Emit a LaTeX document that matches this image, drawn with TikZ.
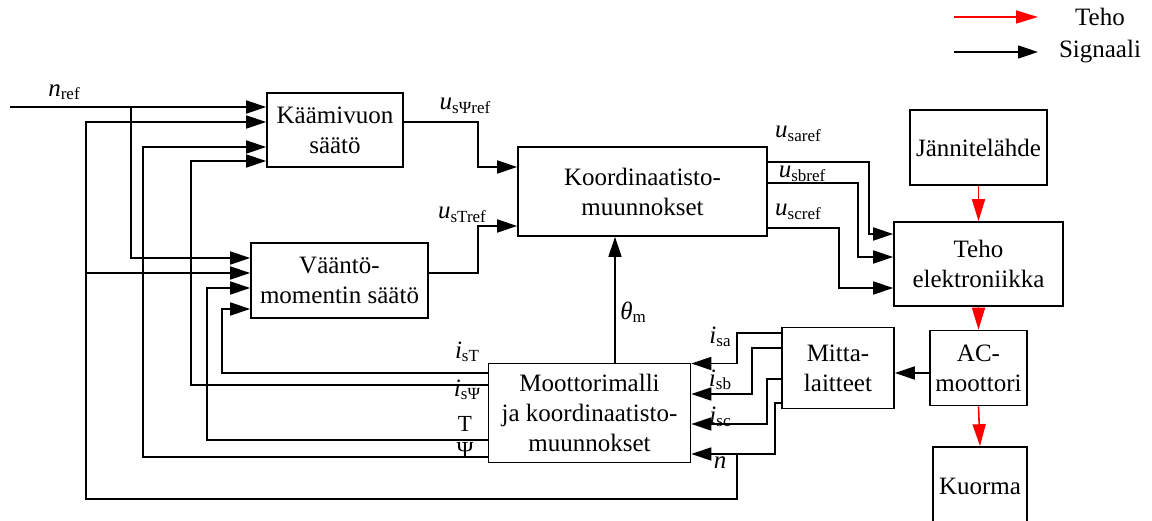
\documentclass[tikz,border=0pt]{standalone}
\usepackage{fontspec}
\setmainfont{Liberation Serif}
\usetikzlibrary{arrows.meta}
\newcommand\sbs[1]{\raisebox{-0.3ex}{\fontsize{17}{17}\selectfont #1}}
\begin{document}
\begin{tikzpicture}[x=1pt,y=-1pt,
  box/.style={draw,line width=1.6pt,inner sep=0pt,align=center,font=\fontsize{25}{30}\selectfont},
  sig/.style={draw,line width=1.6pt,-{Triangle[length=20pt,width=13pt]}},
  pow/.style={draw=red,line width=1.6pt,-{Triangle[length=22pt,width=13pt]}},
  lab/.style={inner sep=0pt,font=\fontsize{25}{30}\selectfont}]
\useasboundingbox (0,0) rectangle (1152,521);
\clip (0,0) rectangle (1152,521);

% blocks
\node[box,minimum width=136pt,minimum height=74pt] (kv) at (335,130) {Käämivuon\\säätö};
\node[box,minimum width=177pt,minimum height=75pt] (vt) at (339.5,280.5) {Vääntö-\\momentin säätö};
\node[box,minimum width=249pt,minimum height=89pt] (ko) at (642.5,191.5) {Koordinaatisto-\\muunnokset};
\node[box,minimum width=169pt,minimum height=84pt] (te) at (978.5,264) {Teho\\elektroniikka};
\node[box,minimum width=137pt,minimum height=75pt] (jl) at (978.5,147.5) {Jännitelähde};
\node[box,minimum width=97pt,minimum height=75pt] (ac) at (978.5,368) {AC-\\moottori};
\node[box,minimum width=94pt,minimum height=78pt] (ku) at (980,486) {Kuorma};
\node[box,minimum width=112pt,minimum height=81pt] (mi) at (838,368) {Mitta-\\laitteet};
\node[box,minimum width=202pt,minimum height=99pt] (mm) at (589.5,413) {Moottorimalli\\ja koordinaatisto-\\muunnokset};

% legend
\coordinate (lg1) at (954,17);
\coordinate (lg2) at (1038,17);
\coordinate (lg3) at (954,52);
\coordinate (lg4) at (1038,52);
\draw[pow] (lg1) -- (lg2);
\draw[sig] (lg3) -- (lg4);
\node[lab] (lgt) at (1100,17) {Teho};
\node[lab] (lgs) at (1100,52) {Signaali};

% power flow
\draw[pow] (jl.south) -- (te.north);
\draw[pow] (te.south) -- (ac.north);
\draw[pow] (ac.south) -- (ku.north);

% n_ref
\coordinate (nrs) at (10,107);
\draw[sig] (nrs) -- (kv.west |- 0,107);
\draw[sig] (131,107) -- (131,258) -- (vt.west |- 0,258);

% controller outputs
\draw[sig] (kv.east |- 0,122) -- (478,122) -- (478,167) -- (ko.west |- 0,167);
\draw[sig] (vt.east |- 0,273) -- (478,273) -- (478,226) -- (ko.west |- 0,226);

% coordinate transform outputs
\draw[sig] (ko.east |- 0,162) -- (869,162) -- (869,234) -- (te.west |- 0,234);
\draw[sig] (ko.east |- 0,183) -- (858,183) -- (858,257) -- (te.west |- 0,257);
\draw[sig] (ko.east |- 0,228) -- (839,228) -- (839,288) -- (te.west |- 0,288);

% theta
\draw[sig] (615,0 |- mm.north) -- (615,0 |- ko.south);

% motor to measurement
\draw[sig] (ac.west |- 0,373) -- (mi.east |- 0,373);

% measurements to motor model
\draw[sig] (mi.west |- 0,333) -- (737,333) -- (737,363.5) -- (mm.east |- 0,363.5);
\draw[sig] (mi.west |- 0,348) -- (752,348) -- (752,394) -- (mm.east |- 0,394);
\draw[sig] (mi.west |- 0,379) -- (767,379) -- (767,424) -- (mm.east |- 0,424);
\draw[sig] (mi.west |- 0,403) -- (775,403) -- (775,454) -- (mm.east |- 0,454);

% speed feedback
\draw[sig] (737,454) -- (737,499) -- (86,499) -- (86,122) -- (kv.west |- 0,122);
\draw[sig] (86,273) -- (vt.west |- 0,273);

% motor model feedbacks
\draw[sig] (mm.west |- 0,373) -- (222,373) -- (222,309) -- (vt.west |- 0,309);
\draw[sig] (mm.west |- 0,385) -- (191,385) -- (191,161) -- (kv.west |- 0,161);
\draw[sig] (mm.west |- 0,440) -- (207,440) -- (207,288) -- (vt.west |- 0,288);
\draw[sig] (mm.west |- 0,457) -- (143,457) -- (143,147) -- (kv.west |- 0,147);

% labels
\node[lab] (lnref) at (64,92) {\textit{n}\sbs{ref}};
\node[lab] (lusp) at (465,106) {\textit{u}\sbs{sΨref}};
\node[lab] (lust) at (462,215) {\textit{u}\sbs{sTref}};
\node[lab] (lusa) at (798,134) {\textit{u}\sbs{saref}};
\node[lab] (lusb) at (802,174) {\textit{u}\sbs{sbref}};
\node[lab] (lusc) at (798,212) {\textit{u}\sbs{scref}};
\node[lab] (lth) at (633,312) {\textit{θ}\sbs{m}};
\node[lab] (list) at (467,352) {\textit{i}\sbs{sT}};
\node[lab] (lisp) at (467,390) {\textit{i}\sbs{sΨ}};
\node[lab,font=\fontsize{23}{26}\selectfont] (lT) at (465,423.5) {T};
\node[lab,font=\fontsize{23}{26}\selectfont] (lPsi) at (465,450) {Ψ};
\node[lab] (lisa) at (720,337) {\textit{i}\sbs{sa}};
\node[lab] (lisb) at (720,380) {\textit{i}\sbs{sb}};
\node[lab] (lisc) at (720,417) {\textit{i}\sbs{sc}};
\node[lab] (ln) at (720,463) {\textit{n}};
\end{tikzpicture}
\end{document}
